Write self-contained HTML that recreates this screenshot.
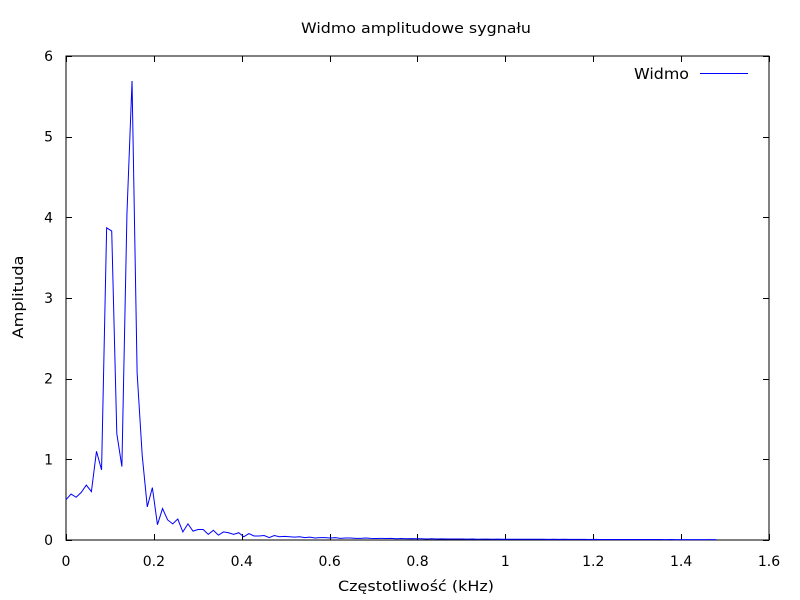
<!DOCTYPE html>
<html><head><meta charset="utf-8"><style>
body{margin:0;background:#fff}
svg{display:block;font-family:"DejaVu Sans","Liberation Sans",sans-serif}
</style></head><body>
<svg id="chart" width="800" height="600" xmlns="http://www.w3.org/2000/svg">
<rect width="800" height="600" fill="#fff"/>
<text x="416" y="33" font-size="14" text-anchor="middle" textLength="230" lengthAdjust="spacingAndGlyphs">Widmo amplitudowe sygnału</text>
<text x="416" y="591" font-size="14" text-anchor="middle" textLength="156" lengthAdjust="spacingAndGlyphs">Częstotliwość (kHz)</text>
<text x="0" y="0" font-size="14" text-anchor="middle" textLength="83" lengthAdjust="spacingAndGlyphs" transform="translate(23,297) rotate(-90)">Amplituda</text>
<g id="axes"></g>
<rect x="66" y="56" width="703" height="484" fill="none" stroke="#000" stroke-width="1"/>
<path id="series" fill="none" stroke="#0000ff" stroke-width="1"/>
<g>
<text x="689" y="79" font-size="15" text-anchor="end" textLength="55" lengthAdjust="spacingAndGlyphs">Widmo</text>
<line x1="700" y1="73.5" x2="748" y2="73.5" stroke="#0000ff" stroke-width="1"/>
</g>
</svg>
<script>
const xTicks = [0, 0.2, 0.4, 0.6, 0.8, 1, 1.2, 1.4, 1.6];
const yTicks = [0, 1, 2, 3, 4, 5, 6];
const xStep = 1.48 / 128;
const amplitudes = [0.50,0.57,0.53,0.59,0.68,0.60,1.10,0.87,3.87,3.83,1.32,0.91,4.05,5.69,2.07,1.05,0.41,0.65,0.19,0.39,0.25,0.20,0.26,0.10,0.20,0.11,0.13,0.13,0.07,0.12,0.06,0.10,0.09,0.07,0.09,0.04,0.08,0.05,0.05,0.055,0.03,0.055,0.04,0.045,
0.04,0.035,0.04,0.03,0.035,0.025,0.03,0.03,0.025,0.03,0.02,0.025,0.025,0.02,0.02,0.025,0.02,0.018,0.02,0.018,0.02,0.015,0.018,0.015,0.017,0.015,0.015,0.013,0.015,0.013,0.014,0.012,0.013,0.012,0.012,0.011,0.012,0.01,0.011,0.011,0.01,0.011,0.01,0.01,0.01,0.009,0.01,0.009,0.01,0.009,0.009,0.008,0.009,0.008,0.009,0.008,0.008,0.008,0.008,0.007,0.008,0.007,0.007,0.007,0.007,0.007,0.006,0.007,0.006,0.006,0.006,0.006,0.006,0.006,0.005,0.006,0.005,0.005,0.005,0.005,0.005,0.005,0.005,0.005,0.005];
const X0=66,X1=769,Y0=540,Y1=56,XMAX=1.6,YMAX=6;
const xs=v=>X0+(X1-X0)*v/XMAX;
const ys=v=>Y0-(Y0-Y1)*v/YMAX;
const NS="http://www.w3.org/2000/svg";
const axes=document.getElementById('axes');
function mk(tag,attrs){const e=document.createElementNS(NS,tag);for(const k in attrs)e.setAttribute(k,attrs[k]);return e;}
xTicks.forEach(t=>{
  const x=Math.round(xs(t))+0.5;
  const l=mk('path',{d:`M${x},${Y0}v-6M${x},${Y1}v6`,stroke:'#000','stroke-width':1});
  
  
  axes.appendChild(l);
  const tx=mk('text',{x:xs(t),y:566,'font-size':14,'text-anchor':'middle'});
  
  
  tx.textContent=String(t);
  axes.appendChild(tx);
});
yTicks.forEach(t=>{
  const y=Math.round(ys(t))+0.5;
  const l=mk('path',{d:`M${X0},${y}h6M${X1},${y}h-6`,stroke:'#000','stroke-width':1});
  
  
  axes.appendChild(l);
  const tx=mk('text',{x:53,y:ys(t)+5,'font-size':14,'text-anchor':'end'});
  
  
  tx.textContent=String(t);
  axes.appendChild(tx);
});
document.getElementById('series').setAttribute('d',amplitudes.map((v,i)=>(i?'L':'M')+xs(i*xStep).toFixed(2)+','+ys(v).toFixed(2)).join(''));
</script>
</body></html>
